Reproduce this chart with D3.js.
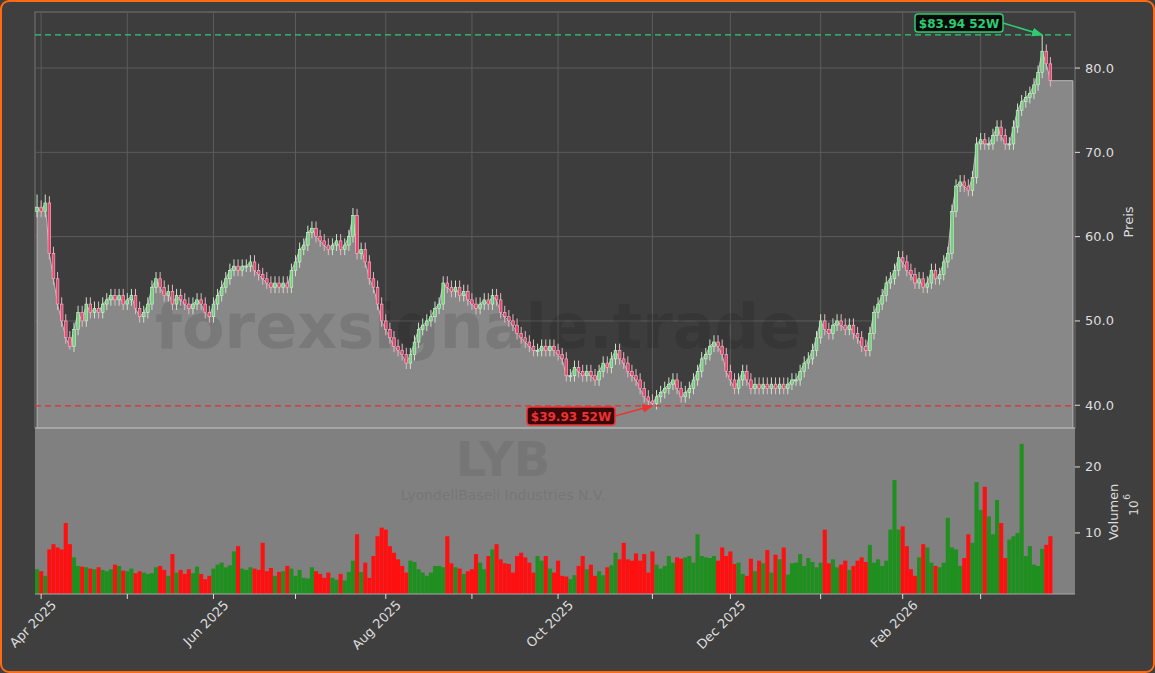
<!DOCTYPE html>
<html><head><meta charset="utf-8">
<script src="https://cdn.jsdelivr.net/npm/d3@7"></script>
<style>body{margin:0;background:#3f3f3f;}svg{display:block;font-family:"DejaVu Sans",sans-serif;}</style>
</head><body><svg id="c" width="1155" height="673"></svg>
<script>
const closes=[63.5,63,64,58,55,52,50,48,47,49,51,50,52,51,51.5,51,52,52.5,53,52.5,53,52,52.5,53,51.5,50.5,51,52,54,55,54,53,53.5,52,53,52.5,52,51.5,52,52.5,52,51,50.5,52,53,54,55,56,56.5,56,56.5,56.5,57,56,55.5,55,54.5,54,54.5,54,54.5,54,56,57,58.5,59,60.5,61,60,59.5,59,58.5,59,59.5,58.5,59,60,62.5,58,58.5,57,55,54,52,50,49,48,47,46.5,46,45,46,47.5,49,49.5,50,50.5,51.5,52,54.5,54,53.5,54,53,53.5,52.5,52,51.5,52,52.5,52,53,52.5,51,50.5,50,49.5,48.5,48,47.5,47,46.5,46.5,47,46.5,47,46.5,46,45.5,43.5,43.5,44.5,44,43.5,44,43.5,43,44,45,44.5,45.5,46.5,45.5,45,44,43.5,43,42,41,40.5,40.2,41,41.5,42,42.5,43,42,41,41.5,42,43,44,45.5,46,47,47.5,47,46,44,43,42,43,44,43,42,42.5,42,42.5,42,42.5,42,42.5,42,42.5,43,43,44,45,45.5,46.5,48,50,49,48.5,49.5,50,49.5,49,49.5,48.5,48,47,46.5,48.5,51,52,53,54.5,55,56,57.5,57,56,55.5,54.5,55,54,54.5,56,55,55.5,57,58,63,66,66.5,66,65.5,67,71,71.5,71,71,72,73,72,71,71,73,75,76,76.5,77,78,79.5,82,80.5,78.5];
const volumes=[4.5,4.2,3.5,7.5,8.3,7.8,7.5,11.5,8.3,6.3,5,4.9,4.8,4.6,4.5,4.8,4.4,4.2,4.5,5.2,5,4.3,4.2,4.6,3.9,4.2,4,3.8,3.9,4.8,5,4.4,3.5,6.8,4,4.4,3.8,4.5,3.9,4.9,3.8,3,3.5,4.6,5.2,5.5,4.8,5.1,7.2,8,4.6,4.4,4.8,4.6,4.4,8.5,4.2,4.7,3.5,4.1,4.2,5,4.6,3.5,4.4,3.2,3.1,4.8,4.2,3.8,3.2,4,3.2,2.9,3.8,2.8,4.1,5.8,9.8,4.1,5.5,3.2,6.5,9.5,10.8,10.5,8,7,6,5,4,5.8,5.6,4.5,4,3.5,4,5,5,4.8,9.5,5.4,4.8,4.6,3.8,4.2,4.5,6.8,5.5,4.5,6.5,7.5,8.3,6,5.4,5.3,4,6.5,7,6.3,5.5,4,6.5,5.8,6.5,4.6,4,5.8,3.5,3.4,3,3.6,5,6.5,4.5,5.2,3.5,4.2,3.6,4.8,5.1,7,6,8.5,6,5.8,6.9,5.8,6.8,4,7.2,5.2,4.6,5,6.5,5.5,6.3,6.1,6.3,6.5,5.5,9.8,6.5,6.3,6.2,6.5,5.8,7.8,6.5,7.2,5.3,5.5,3.8,3.5,6.1,4.2,5.8,5.4,7.4,4,6.7,6,7.8,3.7,5.4,5.5,6.8,5,6.2,5.6,4.8,5.5,10.5,5.4,6,4.8,5.2,5.8,4.4,5,5.8,6.3,5.6,8.2,5.5,6,5,5.8,10.5,18,10.5,11,8,4.5,3.5,6.3,8.3,7.8,5.5,5,4.8,5.5,12.3,7.8,7.5,5,6.2,9.8,8.5,17.7,13.5,17,12.5,9.8,15,11.5,6.2,9,9.5,10,23.5,6.5,8,5.2,5,7.6,8.2,9.5];
const monthNames=["Jan","Feb","Mar","Apr","May","Jun","Jul","Aug","Sep","Oct","Nov","Dec"];
const holidays=["2025-04-18","2025-05-26","2025-06-19","2025-07-04","2025-09-01","2025-11-27","2025-12-25","2026-01-01","2026-01-19","2026-02-16"];
const hi52=83.94, lo52=39.93;
const priceTicks=[40,50,60,70,80], volTicks=[10,20];

const n=closes.length;
const dates=[];let d=new Date(Date.UTC(2025,2,31));
while(dates.length<n){const wd=d.getUTCDay(),s=d.toISOString().slice(0,10);
 if(wd!==0&&wd!==6&&!holidays.includes(s))dates.push(new Date(d));d=new Date(d.getTime()+864e5);}
const opens=closes.map((c,i)=>i===0?63:closes[i-1]);
const highs=closes.map((c,i)=>Math.max(c,opens[i])+0.8), lows=closes.map((c,i)=>Math.min(c,opens[i])-0.7);
highs[245]=hi52; lows[150]=lo52; highs[0]=65; highs[2]=65; lows[8]=46.6; highs[77]=63.4;

const svg=d3.select("#c");
svg.append("rect").attr("x",1).attr("y",1).attr("width",1153).attr("height",671).attr("rx",8).attr("fill","#3f3f3f").attr("stroke","#ff6a13").attr("stroke-width",2);
const L=35,R=1075,PT=12,PB=428,VT=428,VB=594;
const x=d3.scaleLinear().domain([-0.5,n+5]).range([L,R]);
const y=d3.scaleLinear().domain([37.3,86.65]).range([PB,PT]);
const yv=d3.scaleLinear().domain([0.75,25.9]).range([VB,VT]);
const step=x(1)-x(0);

svg.append("rect").attr("x",L).attr("y",PT).attr("width",R-L).attr("height",PB-PT).attr("fill","#3d3d3d").attr("stroke","#777");
svg.append("rect").attr("x",L).attr("y",VT).attr("width",R-L).attr("height",VB-VT).attr("fill","#808080");
const monthIdx=[];dates.forEach((dt,i)=>{if(i>0&&dt.getUTCMonth()!==dates[i-1].getUTCMonth())monthIdx.push(i);});
const g=svg.append("g");
monthIdx.forEach(i=>g.append("line").attr("x1",x(i)).attr("x2",x(i)).attr("y1",PT).attr("y2",PB).attr("stroke","#5c5c5c"));
priceTicks.forEach(t=>g.append("line").attr("x1",L).attr("x2",R).attr("y1",y(t)).attr("y2",y(t)).attr("stroke","#5c5c5c"));
const area=d3.area().x(d=>x(d[0])).y0(PB).y1(d=>y(d[1]));
const pts=closes.map((c,i)=>[i,c]);pts.push([n-1+0.01,closes[n-1]],[n+4.5,closes[n-1]]);
svg.append("path").datum(pts).attr("d",area).attr("fill","#888").attr("stroke","#bbb").attr("stroke-width",1);
svg.append("text").attr("x",155).attr("y",348).attr("font-size",62).attr("font-weight","bold").attr("fill","#000").attr("opacity",0.1).text("forexsignale.trade");
const cg=svg.append("g");
closes.forEach((c,i)=>{const o=opens[i],up=c>=o;
 cg.append("line").attr("x1",x(i)).attr("x2",x(i)).attr("y1",y(highs[i])).attr("y2",y(lows[i])).attr("stroke",up?"#c8e6c8":"#e8b4c4").attr("stroke-width",1);
 const top=y(Math.max(o,c)),h=Math.max(1,Math.abs(y(o)-y(c)));
 cg.append("rect").attr("x",x(i)-step*0.33).attr("y",top).attr("width",step*0.66).attr("height",h).attr("fill",up?"#6fd37a":"#e8456e").attr("stroke",up?"#d8f0d8":"#f3c0d0").attr("stroke-width",0.6);
});
svg.append("line").attr("x1",L).attr("x2",R).attr("y1",y(hi52)).attr("y2",y(hi52)).attr("stroke","#2ecc71").attr("stroke-width",1.3).attr("stroke-dasharray","6,4");
svg.append("line").attr("x1",L).attr("x2",R).attr("y1",y(lo52)).attr("y2",y(lo52)).attr("stroke","#e03030").attr("stroke-width",1.3).attr("stroke-dasharray","6,4");
const defs=svg.append("defs");
[["ag","#2ecc71"],["ar","#ee3333"]].forEach(([id,c])=>defs.append("marker").attr("id",id).attr("viewBox","0 0 10 10").attr("refX",9).attr("refY",5).attr("markerWidth",7).attr("markerHeight",7).attr("orient","auto").append("path").attr("d","M0,1L10,5L0,9z").attr("fill",c));
function label(cx,cy,txt,fill,stroke,col,tx,ty,m){
 svg.append("line").attr("x1",cx+44).attr("y1",cy).attr("x2",tx).attr("y2",ty).attr("stroke",stroke).attr("stroke-width",1.6).attr("marker-end",`url(#${m})`);
 svg.append("rect").attr("x",cx-44).attr("y",cy-9).attr("width",88).attr("height",18).attr("rx",3).attr("fill",fill).attr("stroke",stroke).attr("stroke-width",1.5);
 svg.append("text").attr("x",cx).attr("y",cy+4.5).attr("text-anchor","middle").attr("font-size",12).attr("font-weight","bold").attr("fill",col).text(txt);
}
label(959,23,"$83.94 52W","#0a0a0a","#2ecc71","#2ecc71",x(245),y(hi52),"ag");
label(571,416,"$39.93 52W","#3a0808","#ee3333","#ee3333",x(150),y(lo52),"ar");
svg.append("text").attr("x",503).attr("y",476).attr("text-anchor","middle").attr("font-size",48).attr("font-weight","bold").attr("fill","#000").attr("opacity",0.07).text("LYB");
svg.append("text").attr("x",503).attr("y",500).attr("text-anchor","middle").attr("font-size",14).attr("fill","#000").attr("opacity",0.07).text("LyondellBasell Industries N.V.");
volumes.forEach((v,i)=>svg.append("rect").attr("x",x(i)-step*0.5).attr("y",yv(v)).attr("width",step).attr("height",VB-yv(v)).attr("fill",closes[i]>=opens[i]?"#1f8f1f":"#ff1010"));
svg.append("line").attr("x1",L).attr("x2",R).attr("y1",VT).attr("y2",VT).attr("stroke","#aaa").attr("stroke-width",1.5);
svg.append("line").attr("x1",L).attr("x2",R).attr("y1",VB).attr("y2",VB).attr("stroke","#aaa");
const ax=svg.append("g").attr("fill","#ddd").attr("font-size",13);
priceTicks.forEach(t=>{ax.append("line").attr("x1",R).attr("x2",R+5).attr("y1",y(t)).attr("y2",y(t)).attr("stroke","#ddd");
 ax.append("text").attr("x",R+10).attr("y",y(t)+4.5).text(t.toFixed(1));});
volTicks.forEach(t=>{ax.append("line").attr("x1",R).attr("x2",R+5).attr("y1",yv(t)).attr("y2",yv(t)).attr("stroke","#ddd");
 ax.append("text").attr("x",R+10).attr("y",yv(t)+4.5).text(t);});
ax.append("text").attr("transform","translate(1133,222) rotate(-90)").attr("text-anchor","middle").text("Preis");
ax.append("text").attr("transform","translate(1118,512) rotate(-90)").attr("text-anchor","middle").text("Volumen");
ax.append("text").attr("transform","translate(1138,508) rotate(-90)").attr("text-anchor","middle").attr("font-size",12).text("10");
ax.append("text").attr("transform","translate(1130,497) rotate(-90)").attr("text-anchor","middle").attr("font-size",9).text("6");
monthIdx.forEach(i=>{const dt=dates[i],mi=dt.getUTCMonth(),xi=x(i);
 ax.append("line").attr("x1",xi).attr("x2",xi).attr("y1",VB).attr("y2",VB+5).attr("stroke","#ddd");
 if(mi%2===1)ax.append("text").attr("transform",`translate(${xi+16},${VB+12}) rotate(-45)`).attr("text-anchor","end").text(monthNames[mi]+" "+dt.getUTCFullYear());
});
</script></body></html>
